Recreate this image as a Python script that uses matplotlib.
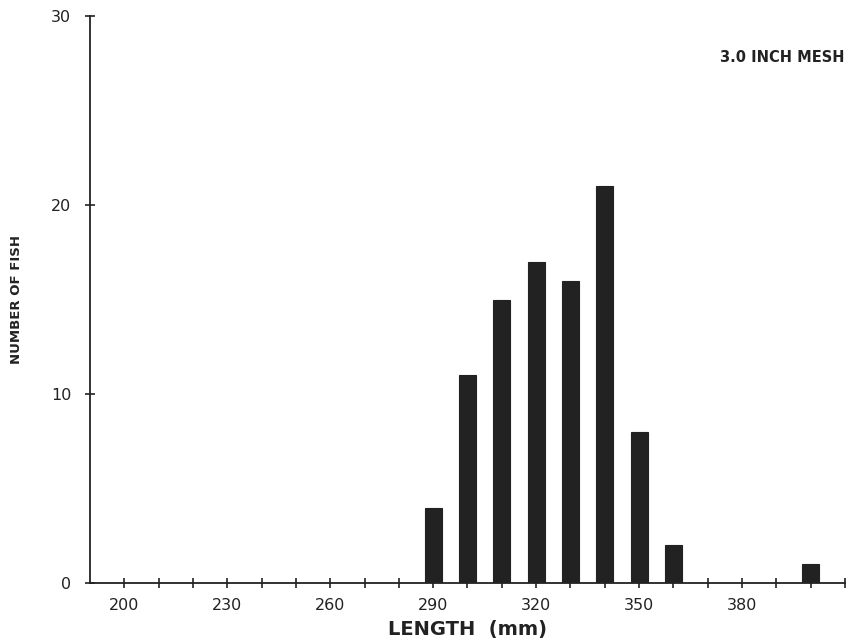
import matplotlib
matplotlib.use("Agg")
import matplotlib.pyplot as plt

lengths = [290, 300, 310, 320, 330, 340, 350, 360, 400]
counts = [4, 11, 15, 17, 16, 21, 8, 2, 1]
xtick_labels = [200, 230, 260, 290, 320, 350, 380]
ytick_labels = [0, 10, 20, 30]

fig = plt.figure(figsize=(8.57, 6.43), dpi=100)
ax = fig.add_axes([0.105, 0.093, 0.881, 0.882])
ink = "#222222"

ax.bar(lengths, counts, width=5.0, color=ink, edgecolor=ink, linewidth=0.8)

ax.set_xlim(190, 410)
ax.set_ylim(0, 30)
ax.spines["top"].set_visible(False)
ax.spines["right"].set_visible(False)
for s in ("left", "bottom"):
    ax.spines[s].set_color(ink)
    ax.spines[s].set_linewidth(1.3)

ax.set_xticks(range(200, 411, 10), minor=True)
ax.set_xticks(xtick_labels)
ax.set_xticklabels([str(v) for v in xtick_labels])
ax.set_yticks(ytick_labels)
ax.set_yticklabels([str(v) for v in ytick_labels])
ax.tick_params(axis="both", which="both", direction="inout", length=7, width=1.2,
               color=ink, labelcolor=ink, labelsize=11.5)
ax.tick_params(axis="x", which="major", pad=7)
ax.tick_params(axis="y", which="major", pad=10)

ax.set_xlabel("LENGTH  (mm)", fontsize=14, color=ink, labelpad=5, fontweight="bold")
ax.set_ylabel("NUMBER OF FISH", fontsize=9.5, color=ink, labelpad=20, fontweight="bold")
ax.text(0.985, 0.91, "3.0 INCH MESH", transform=fig.transFigure, ha="right", va="center",
        fontsize=10.5, fontweight="bold", color=ink)

fig.savefig("out.png", dpi=100, facecolor="white")
